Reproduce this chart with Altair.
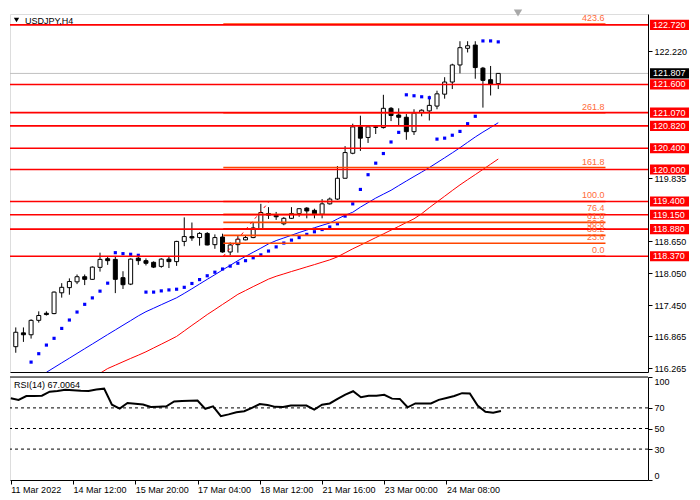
import altair as alt
import pandas as pd

# ---------------- data ----------------
idx = list(range(64))
opens = [116.670, 116.930, 116.894, 117.165, 117.298, 117.292, 117.683, 117.780, 117.889, 117.985,
         117.936, 118.161, 118.323, 118.311, 117.967, 117.846, 118.334, 118.287, 118.256, 118.179,
         118.316, 118.269, 118.649, 118.740, 118.721, 118.799, 118.588, 118.732, 118.450, 118.588,
         118.678, 118.721, 118.890, 119.174, 119.138, 118.980, 119.083, 119.174, 119.275, 119.233,
         119.161, 119.355, 119.445, 119.836, 120.306, 120.802, 120.603, 120.802, 120.789, 121.151,
         121.025, 120.983, 120.712, 121.074, 121.102, 121.193, 121.417, 121.645, 121.966, 122.279,
         122.340, 121.906, 121.689, 121.616]
highs = [117.032, 117.032, 117.184, 117.334, 117.334, 117.708, 117.864, 117.954, 118.027, 118.027,
         118.179, 118.437, 118.370, 118.370, 118.088, 118.329, 118.407, 118.329, 118.274, 118.334,
         118.360, 118.660, 119.101, 119.004, 118.823, 118.823, 118.781, 118.794, 118.631, 118.750,
         118.765, 119.004, 119.355, 119.293, 119.203, 119.107, 119.293, 119.270, 119.293, 119.264,
         119.445, 119.474, 120.066, 120.440, 120.862, 121.012, 120.813, 120.815, 121.405, 121.175,
         121.151, 121.043, 121.133, 121.133, 121.387, 121.482, 121.736, 121.989, 122.412, 122.412,
         122.412, 121.929, 121.947, 121.808]
lows = [116.556, 116.760, 116.822, 117.122, 117.256, 117.280, 117.592, 117.647, 117.846, 117.828,
        117.925, 118.081, 118.208, 117.677, 117.755, 117.828, 118.208, 118.197, 118.148, 118.154,
        118.148, 118.189, 118.559, 118.660, 118.569, 118.575, 118.510, 118.437, 118.388, 118.437,
        118.670, 118.710, 118.885, 119.071, 119.053, 118.953, 119.070, 119.112, 119.083, 119.083,
        119.083, 119.342, 119.427, 119.836, 120.288, 120.350, 120.500, 120.668, 120.771, 120.911,
        120.831, 120.560, 120.650, 121.001, 120.922, 121.133, 121.332, 121.513, 121.808, 122.201,
        121.707, 121.164, 121.392, 121.513]
closes = [116.941, 116.894, 117.165, 117.256, 117.274, 117.696, 117.786, 117.895, 117.985, 117.936,
          118.166, 118.311, 118.287, 117.936, 117.835, 118.316, 118.287, 118.238, 118.166, 118.316,
          118.269, 118.649, 118.740, 118.714, 118.799, 118.582, 118.721, 118.450, 118.582, 118.691,
          118.721, 118.902, 119.192, 119.143, 119.112, 119.083, 119.174, 119.264, 119.221, 119.161,
          119.355, 119.445, 119.836, 120.319, 120.802, 120.590, 120.802, 120.793, 121.151, 121.016,
          120.983, 120.712, 121.061, 121.115, 121.206, 121.423, 121.645, 121.966, 122.291, 122.327,
          121.917, 121.676, 121.604, 121.807]

sar = [None, None, 116.380, 116.538, 116.700, 116.827, 117.013, 117.171, 117.321, 117.466,
       117.587, 117.714, 117.864, 118.437, 118.419, 118.407, 118.388, 117.696, 117.696, 117.719,
       117.737, 117.750, 117.786, 117.858, 117.931, 118.003, 118.070, 118.130, 118.184, 118.238,
       118.287, 118.341, 118.396, 118.468, 118.546, 118.618, 118.673, 118.721, 118.781, 118.830,
       118.872, 118.920, 118.980, 119.125, 119.355, 119.626, 119.903, 120.120, 120.301, 120.518,
       120.699, 121.405, 121.387, 121.368, 121.350, 120.572, 120.590, 120.645, 120.717, 120.862,
       121.001, 122.418, 122.418, 122.400]

ma_blue = [None] * 4 + [
    116.188, 116.277, 116.366, 116.454, 116.543, 116.632, 116.720, 116.809, 116.898, 116.985,
    117.073, 117.160, 117.249, 117.328, 117.393, 117.459, 117.524, 117.589, 117.672, 117.759,
    117.848, 117.936, 118.023, 118.112, 118.199, 118.287, 118.367, 118.445, 118.522, 118.602,
    118.664, 118.714, 118.765, 118.816, 118.863, 118.906, 118.951, 118.995, 119.071, 119.141,
    119.197, 119.293, 119.378, 119.463, 119.537, 119.610, 119.698, 119.784, 119.869, 119.952,
    120.037, 120.129, 120.221, 120.314, 120.410, 120.511, 120.612, 120.704, 120.791, 120.880]

ma_red = [None] * 11 + [
    116.170, 116.259, 116.322, 116.386, 116.449, 116.510, 116.574, 116.646, 116.717, 116.789,
    116.863, 116.966, 117.070, 117.171, 117.274, 117.368, 117.464, 117.558, 117.654, 117.726,
    117.799, 117.869, 117.940, 117.994, 118.038, 118.083, 118.126, 118.170, 118.213, 118.258,
    118.302, 118.358, 118.434, 118.510, 118.578, 118.649, 118.720, 118.790, 118.861, 118.931,
    119.004, 119.074, 119.170, 119.284, 119.391, 119.498, 119.606, 119.711, 119.809, 119.905,
    120.002, 120.100, 120.198]

rsi = [79.4, 77.8, 81.5, 81.5, 81.8, 85.7, 86.4, 87.6, 87.1, 86.7,
       86.5, 87.9, 88.7, 73.1, 69.3, 74.7, 74.0, 73.3, 70.9, 71.2,
       71.5, 76.2, 76.8, 77.0, 77.1, 69.1, 71.5, 61.9, 63.7, 65.8,
       66.8, 70.0, 73.7, 72.8, 71.0, 70.9, 72.4, 72.4, 72.3, 68.4,
       73.1, 74.3, 78.7, 82.9, 86.2, 80.3, 81.8, 81.8, 82.7, 79.0,
       78.7, 70.6, 74.3, 74.3, 74.3, 77.8, 79.6, 81.5, 84.3, 84.1,
       72.2, 66.3, 65.3, 67.0064]
rsi_last = "67.0064"

levels = [122.720, 121.600, 121.070, 120.820, 120.400, 120.000, 119.400, 119.150, 118.880, 118.370]
current_price = 121.807

fib_labels = ["0.0", "23.6", "38.2", "50.0", "61.8", "76.4", "100.0", "161.8", "261.8", "423.6"]
fib_prices = [118.370, 118.613, 118.763, 118.885, 119.007, 119.157, 119.400, 120.037, 121.067, 122.733]
fib_t0, fib_t1, fib_tend = 27.1, 33.1, 77.0

# price-scale labels that are visible (the others sit under the level boxes)
price_ticks = [122.220, 119.835, 118.650, 118.050, 117.450, 116.865, 116.265]
time_idx = [0, 8, 16, 24, 32, 40, 48, 56]
time_labels = ["11 Mar 2022", "14 Mar 12:00", "15 Mar 20:00", "17 Mar 04:00",
               "18 Mar 12:00", "21 Mar 16:00", "23 Mar 00:00", "24 Mar 08:00"]
rsi_levels = [70, 50, 30]
rsi_ticks = [0, 30, 50, 70, 100]

# ---------------- layout / style ----------------
W, HM, HR = 638, 358, 103
FONT = "Liberation Sans"
FS = 9

xs = alt.Scale(domain=[-0.1, 81.9], nice=False, zero=False)
ys = alt.Scale(domain=[116.194, 122.924], nice=False, zero=False)
rs = alt.Scale(domain=[0, 100], nice=False, zero=False)

x_axis_main = alt.Axis(labels=False, ticks=False, domain=True, domainColor="black",
                       grid=False, title=None)
y_axis_main = alt.Axis(orient="right", values=price_ticks, format=".3f", domain=True,
                       domainColor="black", ticks=True, tickColor="black", tickSize=4,
                       labelColor="black", labelFont=FONT, labelFontSize=FS, labelPadding=2,
                       grid=False, title=None, labelOverlap=False, labelFlush=False)

lab_expr = "[" + ",".join("'%s'" % t for t in time_labels) + "][round(datum.value/8)]"
x_axis_rsi = alt.Axis(values=time_idx, labelExpr=lab_expr, labelAlign="left", labelPadding=1,
                      tickSize=4, tickColor="black", domainColor="black", labelColor="black",
                      labelFont=FONT, labelFontSize=FS, grid=False, title=None,
                      labelOverlap=False, labelFlush=False, labelBound=False)
y_axis_rsi = alt.Axis(orient="right", values=rsi_ticks, format="d", domain=True,
                      domainColor="black", tickColor="black", tickSize=4, labelColor="black",
                      labelFont=FONT, labelFontSize=FS, labelPadding=2, grid=False, title=None,
                      labelFlush=True, labelOverlap=False)


def X(f):
    return alt.X(f, type="quantitative", scale=xs, axis=x_axis_main)


def Y(f):
    return alt.Y(f, type="quantitative", scale=ys, axis=y_axis_main)


def XR(f):
    return alt.X(f, type="quantitative", scale=xs, axis=x_axis_rsi)


def YR(f):
    return alt.Y(f, type="quantitative", scale=rs, axis=y_axis_rsi)


cdf = pd.DataFrame({"i": idx, "o": opens, "h": highs, "l": lows, "c": closes})
cdf["dir"] = ["up" if c >= o else "down" for o, c in zip(opens, closes)]
ind = pd.DataFrame({"i": idx, "sar": sar, "mb": ma_blue, "mr": ma_red})
lev = pd.DataFrame({"p": levels})
cur = pd.DataFrame({"p": [current_price]})
fib = pd.DataFrame({"p": fib_prices, "lab": fib_labels,
                    "x0": [fib_t0] * len(fib_prices), "x1": [fib_tend] * len(fib_prices)})
fib_trend = pd.DataFrame({"i": [fib_t0, fib_t1], "p": [fib_prices[0], fib_prices[6]]})

BOX = "M-1,-0.26L1,-0.26L1,0.26L-1,0.26Z"
BOX_SIZE = 39 * 39
BOX_X = W + 21.5
TXT_X = W + 5

layers = [
    alt.Chart(cur).mark_rule(color="#C0C0C0", strokeWidth=1).encode(y=Y("p")),
    alt.Chart(cdf).mark_rule(color="black", strokeWidth=1, clip=True).encode(
        x=X("i"), y=Y("l"), y2=alt.Y2("h")),
    alt.Chart(cdf).mark_bar(size=4, stroke="black", strokeWidth=1, clip=True).encode(
        x=X("i"), y=Y("o"), y2=alt.Y2("c"),
        color=alt.Color("dir:N", scale=alt.Scale(domain=["up", "down"], range=["white", "black"]),
                        legend=None)),
    alt.Chart(ind).mark_line(color="#0000FF", strokeWidth=1, clip=True).encode(x=X("i"), y=Y("mb")),
    alt.Chart(ind).mark_line(color="#FF0000", strokeWidth=1, clip=True).encode(x=X("i"), y=Y("mr")),
    alt.Chart(ind).mark_square(size=10, color="#0000FF", opacity=1, clip=True).encode(
        x=X("i"), y=Y("sar")),
    alt.Chart(fib).mark_rule(color="#FF4500", strokeWidth=1.6).encode(
        x=X("x0"), x2=alt.X2("x1"), y=Y("p")),
    alt.Chart(lev).mark_rule(color="#FF0000", strokeWidth=1.6).encode(y=Y("p")),
    alt.Chart(fib_trend).mark_line(color="#FF0000", strokeWidth=1, strokeDash=[3, 4]).encode(
        x=X("i"), y=Y("p")),
    alt.Chart(fib).mark_text(align="right", baseline="bottom", dx=-1, dy=-1, color="#FF6A3A",
                             font=FONT, fontSize=FS).encode(x=X("x1"), y=Y("p"), text="lab:N"),
    alt.Chart(lev).mark_point(shape=BOX, size=BOX_SIZE, filled=True, opacity=1, color="#FF0000",
                              strokeWidth=0).encode(x=alt.value(BOX_X), y=Y("p")),
    alt.Chart(lev).mark_text(align="left", baseline="middle", color="white", font=FONT,
                             fontSize=FS).encode(x=alt.value(TXT_X), y=Y("p"),
                                                 text=alt.Text("p:Q", format=".3f")),
    alt.Chart(cur).mark_point(shape=BOX, size=BOX_SIZE, filled=True, opacity=1, color="black",
                              strokeWidth=0).encode(x=alt.value(BOX_X), y=Y("p")),
    alt.Chart(cur).mark_text(align="left", baseline="middle", color="white", font=FONT,
                             fontSize=FS).encode(x=alt.value(TXT_X), y=Y("p"),
                                                 text=alt.Text("p:Q", format=".3f")),
    alt.Chart(cur).mark_point(shape="triangle-down", size=28, filled=True, opacity=1,
                              color="black").encode(x=alt.value(6.5), y=alt.value(6)),
    alt.Chart(cur).mark_text(align="left", baseline="middle", color="black", font=FONT,
                             fontSize=FS).encode(x=alt.value(15), y=alt.value(6.5),
                                                 text=alt.value("USDJPY,H4")),
    alt.Chart(cur).mark_point(shape="triangle-down", size=70, filled=True, opacity=1,
                              color="#A8A8A8").encode(x=alt.value(508), y=alt.value(-1)),
]
main = alt.layer(*layers).properties(width=W, height=HM)

rdf = pd.DataFrame({"i": idx, "r": rsi})
rlev = pd.DataFrame({"v": rsi_levels})
rtop = pd.DataFrame({"v": [100]})
rsi_layers = [
    alt.Chart(rlev).mark_rule(color="black", strokeWidth=1, strokeDash=[3, 3]).encode(y=YR("v")),
    alt.Chart(rtop).mark_rule(color="black", strokeWidth=1).encode(y=YR("v")),
    alt.Chart(rdf).mark_line(color="black", strokeWidth=2, clip=True).encode(x=XR("i"), y=YR("r")),
    alt.Chart(rtop).mark_text(align="left", baseline="middle", color="black", font=FONT,
                              fontSize=FS).encode(x=alt.value(4), y=alt.value(8),
                                                  text=alt.value("RSI(14) " + rsi_last)),
]
rsi_chart = alt.layer(*rsi_layers).properties(width=W, height=HR)

chart = alt.vconcat(main, rsi_chart, spacing=2).properties(
    padding={"left": 0, "top": 0, "right": 0, "bottom": 0}
).configure_view(stroke=None).configure(background="white", font=FONT)

chart.save("out.html", embed_options={"renderer": "svg", "actions": False})
